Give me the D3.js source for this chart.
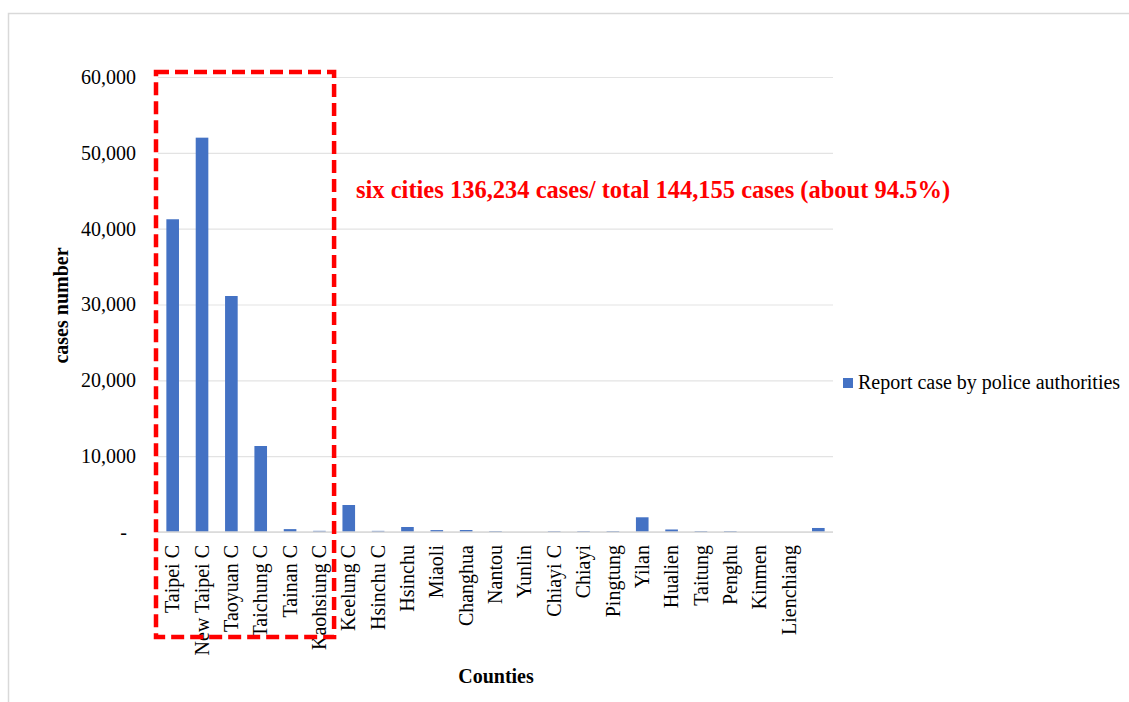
<!DOCTYPE html>
<html>
<head>
<meta charset="utf-8">
<script src="https://cdn.jsdelivr.net/npm/d3@7/dist/d3.min.js"></script>
<style>
  html, body { margin: 0; padding: 0; background: #fff; }
  svg { display: block; }
  text { font-family: "Liberation Serif", "Times New Roman", serif; fill: #000; }
</style>
</head>
<body>
<svg id="chart" width="1129" height="702"></svg>
<script>
// Reported cases by county / city
const counties = [
  "Taipei C", "New Taipei C", "Taoyuan C", "Taichung C", "Tainan C", "Kaohsiung C",
  "Keelung C", "Hsinchu C", "Hsinchu", "Miaoli", "Changhua", "Nantou", "Yunlin",
  "Chiayi C", "Chiayi", "Pingtung", "Yilan", "Hualien", "Taitung", "Penghu",
  "Kinmen", "Lienchiang", ""
];
const reportCases = [
  41240, 52000, 31120, 11340, 380, 154,
  3560, 150, 660, 250, 260, 130, 0,
  120, 120, 130, 1940, 330, 130, 130,
  0, 0, 530
];
const yTickValues = [0, 10000, 20000, 30000, 40000, 50000, 60000];
const yTickLabels = ["-", "10,000", "20,000", "30,000", "40,000", "50,000", "60,000"];
const seriesName = "Report case by police authorities";
const highlightCount = 6;
const annotation = "six cities 136,234 cases/ total 144,155 cases (about 94.5%)";

const SERIF = "'Liberation Serif', 'Times New Roman', serif";
const svg = d3.select("#chart");

// outer chart-area frame
svg.append("rect")
  .attr("x", 8.5).attr("y", 13.5)
  .attr("width", 1140).attr("height", 700)
  .attr("fill", "none").attr("stroke", "#d9d9d9").attr("stroke-width", 1.5);

const plot = { left: 158, right: 833, top: 77, bottom: 532 };

const x = d3.scaleBand()
  .domain(counties)
  .range([plot.left, plot.right])
  .paddingInner(0.57)
  .paddingOuter(0.285);

const y = d3.scaleLinear()
  .domain([0, 60000])
  .range([plot.bottom, plot.top]);

// horizontal gridlines
const yAxis = d3.axisLeft(y)
  .tickValues(yTickValues)
  .tickSize(-(plot.right - plot.left))
  .tickPadding(22)
  .tickFormat((d, i) => yTickLabels[i]);

const gy = svg.append("g")
  .attr("transform", `translate(${plot.left},0)`)
  .call(yAxis)
  .attr("font-family", SERIF);
gy.select(".domain").remove();
gy.selectAll(".tick line").attr("stroke", "#e3e3e3").attr("stroke-width", 1.2);
gy.selectAll(".tick text")
  .attr("font-size", 20)
  .attr("font-family", SERIF)
  .attr("fill", "#222")
  .attr("dx", (d, i) => yTickLabels[i] === "-" ? -9 : 0);

// bars
svg.append("g").selectAll("rect")
  .data(counties)
  .join("rect")
  .attr("x", d => x(d))
  .attr("width", x.bandwidth())
  .attr("y", (d, i) => y(reportCases[i]))
  .attr("height", (d, i) => plot.bottom - y(reportCases[i]))
  .attr("fill", "#4472c4");

// category axis line
svg.append("line")
  .attr("x1", plot.left).attr("x2", plot.right)
  .attr("y1", plot.bottom).attr("y2", plot.bottom)
  .attr("stroke", "#d9d9d9").attr("stroke-width", 1.5);

// rotated category labels
svg.append("g").selectAll("text")
  .data(counties)
  .join("text")
  .attr("transform", d => `translate(${x(d) + x.bandwidth() / 2},545) rotate(-90)`)
  .attr("text-anchor", "end")
  .attr("dy", "0.33em")
  .attr("font-family", SERIF)
  .attr("font-size", 20)
  .attr("fill", "#222")
  .text(d => d);

// axis titles
svg.append("text")
  .attr("transform", `translate(68,${(plot.top + plot.bottom) / 2 + 1}) rotate(-90)`)
  .attr("text-anchor", "middle")
  .attr("font-family", SERIF)
  .attr("font-size", 20)
  .attr("font-weight", "bold")
  .text("cases number");

svg.append("text")
  .attr("x", 496).attr("y", 683)
  .attr("text-anchor", "middle")
  .attr("font-family", SERIF)
  .attr("font-size", 20)
  .attr("font-weight", "bold")
  .text("Counties");

// legend
const legend = svg.append("g");
legend.append("rect")
  .attr("x", 843).attr("y", 378)
  .attr("width", 10).attr("height", 10)
  .attr("fill", "#4472c4");
legend.append("text")
  .attr("x", 858).attr("y", 389)
  .attr("font-family", SERIF)
  .attr("font-size", 20)
  .attr("fill", "#222")
  .text(seriesName);

// highlight box around the six special municipalities
const boxLeft = x(counties[0]) - x.step() * x.paddingOuter() - 2;
const boxRight = x(counties[highlightCount]) - x.step() * x.paddingInner() / 2;
svg.append("rect")
  .attr("x", boxLeft)
  .attr("y", y(60000) - 5)
  .attr("width", boxRight - boxLeft)
  .attr("height", 637 - (y(60000) - 5))
  .attr("fill", "none")
  .attr("stroke", "#ff0000")
  .attr("stroke-width", 4.5)
  .attr("stroke-dasharray", "13,6");

svg.append("text")
  .attr("x", 356).attr("y", 198)
  .attr("font-family", SERIF)
  .attr("font-size", 24.5)
  .attr("font-weight", "bold")
  .style("fill", "#ff0000")
  .text(annotation);
</script>
</body>
</html>
